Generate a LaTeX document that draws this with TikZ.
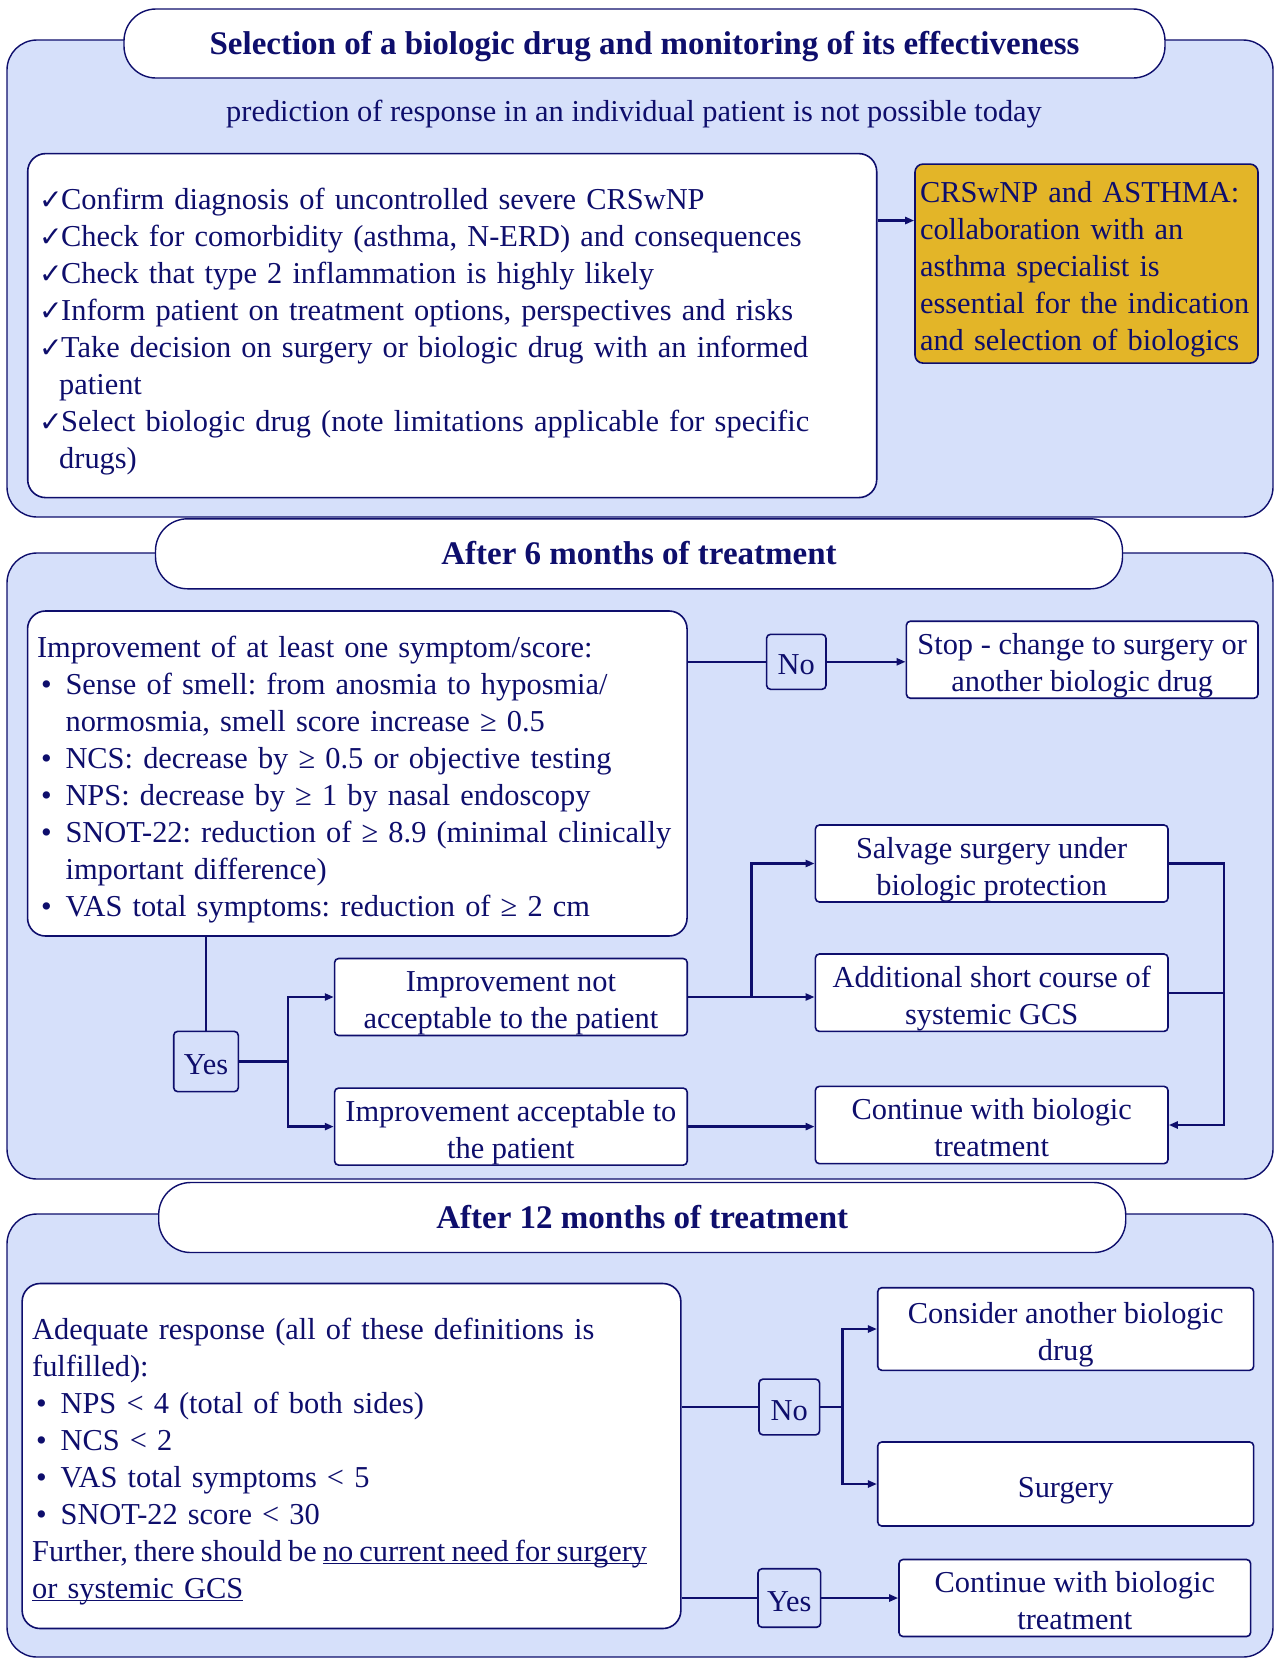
\documentclass[tikz,border=0pt]{standalone}
\usepackage{fontspec}
\setmainfont{Liberation Serif}
\newfontfamily\dejavu{DejaVu Sans}
\usetikzlibrary{arrows.meta,calc}
\definecolor{navy}{RGB}{14,14,108}
\definecolor{panelblue}{RGB}{214,224,250}
\definecolor{goldbox}{RGB}{227,181,40}
\newcommand{\ck}{\makebox[22pt][l]{\fontsize{28}{37}\selectfont\dejavu ✓}}
\newcommand{\ckin}{\hspace*{20pt}}
\newcommand{\bul}{\makebox[28.5pt][l]{\hspace{4pt}•}}
\newcommand{\bulin}{\hspace*{28.5pt}}
\newcommand{\tp}{\rule{0pt}{33pt}}
\newcommand{\bt}{\rule[-7pt]{0pt}{7pt}}
\newcommand{\ttp}{\rule{0pt}{29pt}}
\newcommand{\ulx}[1]{\underline{\smash{#1}}}
\begin{document}
\begin{tikzpicture}[x=1pt,y=-1pt,
  body/.style={font=\fontsize{30.4}{37}\selectfont\frenchspacing},
  panel/.style={draw=navy, line width=1.4pt, fill=panelblue, rounded corners=30pt},
  pill/.style={draw=navy, line width=1.4pt, fill=white, rounded corners=32pt, inner sep=0pt, text=navy, font=\fontsize{33}{38}\selectfont\bfseries},
  bigbox/.style={body, draw=navy, line width=1.6pt, fill=white, rounded corners=18pt, align=left, inner ysep=0pt, text=navy},
  box/.style={body, draw=navy, line width=1.6pt, fill=white, rounded corners=4pt, align=center, inner sep=0pt, text=navy},
  lab/.style={box, fill=panelblue},
  conn/.style={draw=navy, line width=2.4pt},
  arr/.style={conn, -{Triangle[length=9pt,width=7pt]}}
]
\useasboundingbox (0,0) rectangle (1276,1660);

% panels
\path[panel] (7,40) rectangle (1273,517);
\path[panel] (7,553) rectangle (1273,1179);
\path[panel] (7,1214) rectangle (1273,1657);

% titles
\node[pill, minimum width=1041pt, minimum height=69pt] (t1) at (644.5,43.5) {\ttp Selection of a biologic drug and monitoring of its effectiveness\bt};
\node[pill, minimum width=967pt, minimum height=70pt] (t2) at (639,553.8) {\ttp After 6 months of treatment\bt};
\node[pill, minimum width=967pt, minimum height=70pt] (t3) at (642.2,1217.5) {\ttp After 12 months of treatment\bt};

\node[body, text=navy, inner sep=0pt] (sub) at (634,110) {\ttp prediction of response in an individual patient is not possible today\bt};

% panel 1
\node[bigbox, text width=826pt, inner xsep=11.5pt, minimum height=344pt] (chk) at (452.2,325.6) {%
\mbox{\tp\ck Confirm diagnosis of uncontrolled severe CRSwNP}\\
\mbox{\ck Check for comorbidity (asthma, N-ERD) and consequences}\\
\mbox{\ck Check that type 2 inflammation is highly likely}\\
\mbox{\ck Inform patient on treatment options, perspectives and risks}\\
\mbox{\ck Take decision on surgery or biologic drug with an informed}\\
\mbox{\ckin patient}\\
\mbox{\ck Select biologic drug (note limitations applicable for specific}\\
\mbox{\ckin drugs)\bt}};
\node[bigbox, fill=goldbox, rounded corners=8pt, text width=333pt, inner xsep=5pt, minimum height=199pt] (gold) at (1086.5,263.6) {%
\mbox{\tp CRSwNP and ASTHMA:}\\
\mbox{collaboration with an}\\
\mbox{asthma specialist is}\\
\mbox{essential for the indication}\\
\mbox{and selection of biologics\bt}};
\draw[arr] ($(chk.north east)!0.196!(chk.south east)$) coordinate (c1) -- (c1 -| gold.west);

% panel 2
\node[bigbox, text width=640.5pt, inner xsep=9.5pt, minimum height=325pt] (imp) at (357.3,773.5) {%
\mbox{\tp Improvement of at least one symptom/score:}\\
\mbox{\bul Sense of smell: from anosmia to hyposmia/}\\
\mbox{\bulin normosmia, smell score increase ≥ 0.5}\\
\mbox{\bul NCS: decrease by ≥ 0.5 or objective testing}\\
\mbox{\bul NPS: decrease by ≥ 1 by nasal endoscopy}\\
\mbox{\bul SNOT-22: reduction of ≥ 8.9 (minimal clinically}\\
\mbox{\bulin important difference)}\\
\mbox{\bul VAS total symptoms: reduction of ≥ 2 cm\bt}};
\node[lab, minimum width=59.4pt, minimum height=55pt] (no2) at (796.3,661.8) {\tp No\bt};
\node[box, minimum width=351.6pt, minimum height=76.2pt] (stop) at (1082.2,659.7) {\tp Stop - change to surgery or\\another biologic drug\bt};
\node[lab, minimum width=64.6pt, minimum height=60.3pt] (yes2) at (206,1061.5) {\tp Yes\bt};
\node[box, minimum width=352.6pt, minimum height=70.9pt] (notacc) at (510.9,997) {\tp Improvement not\\acceptable to the patient\bt};
\node[box, minimum width=352.6pt, minimum height=69.9pt] (acc) at (510.9,1126.6) {\tp Improvement acceptable to\\the patient\bt};
\node[box, minimum width=352.6pt, minimum height=77pt] (salv) at (991.7,863.5) {\tp Salvage surgery under\\biologic protection\bt};
\node[box, minimum width=352.6pt, minimum height=77.4pt] (addl) at (991.7,992.7) {\tp Additional short course of\\systemic GCS\bt};
\node[box, minimum width=352.6pt, minimum height=77.3pt] (cont2) at (991.7,1125) {\tp Continue with biologic\\treatment\bt};

\draw[conn] (imp.east |- no2.west) -- (no2.west);
\draw[arr] (no2.east) -- (no2.east -| stop.west);
\draw[conn] (yes2.north |- imp.south) -- (yes2.north);
\draw[conn] (yes2.east) -- ++(48.7,0) coordinate (b1);
\draw[arr] (b1) |- (notacc.west);
\draw[arr] (b1) |- (acc.west);
\draw[arr] (notacc.east) -- (notacc.east -| addl.west);
\draw[arr] ([xshift=63.6pt]notacc.east) |- (salv.west);
\draw[arr] (acc.east) -- (acc.east -| cont2.west);
\draw[arr] (salv.east) -- ++(55,0) coordinate (r1) |- (cont2.east);
\draw[conn] (addl.east) -- (addl.east -| r1);

% panel 3
\node[bigbox, text width=638.7pt, inner xsep=10pt, minimum height=345pt] (adq) at (351.5,1456) {%
\mbox{\tp Adequate response (all of these definitions is}\\
\mbox{fulfilled):}\\
\mbox{\bul NPS < 4 (total of both sides)}\\
\mbox{\bul NCS < 2}\\
\mbox{\bul VAS total symptoms < 5}\\
\mbox{\bul SNOT-22 score < 30}\\
\mbox{\spaceskip=0.8\fontdimen2\font Further, there should be \ulx{no current need for surgery}}\\
\mbox{\ulx{or systemic GCS}\bt}};
\node[lab, minimum width=60.6pt, minimum height=55.8pt] (no3) at (789.3,1407) {\tp No\bt};
\node[box, minimum width=375.9pt, minimum height=82.6pt] (cons) at (1065.7,1329) {\tp Consider another biologic\\drug\bt};
\node[box, minimum width=375.9pt, minimum height=84pt] (surg) at (1065.7,1484) {\tp Surgery\bt};
\node[lab, minimum width=62.6pt, minimum height=58.5pt] (yes3) at (789.3,1598) {\tp Yes\bt};
\node[box, minimum width=351.6pt, minimum height=76.3pt] (cont3) at (1074.8,1598) {\tp Continue with biologic\\treatment\bt};

\draw[conn] (adq.east |- no3.west) -- (no3.west);
\draw[conn] (no3.east) -- ++(22.2,0) coordinate (b3);
\draw[arr] (b3) |- (cons.west);
\draw[arr] (b3) |- (surg.west);
\draw[conn] (adq.east |- yes3.west) -- (yes3.west);
\draw[arr] (yes3.east) -- (yes3.east -| cont3.west);
\end{tikzpicture}
\end{document}
